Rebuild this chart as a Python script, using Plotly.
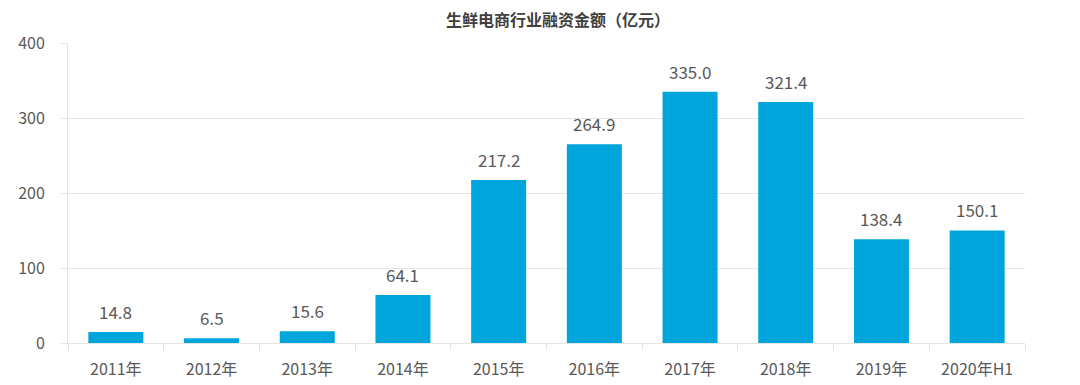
import plotly.graph_objects as go

categories = ["2011年", "2012年", "2013年", "2014年", "2015年", "2016年", "2017年", "2018年", "2019年", "2020年H1"]
values = [14.8, 6.5, 15.6, 64.1, 217.2, 264.9, 335.0, 321.4, 138.4, 150.1]
y_ticks = [0, 100, 200, 300, 400]

FONT = "Noto Sans CJK SC, Open Sans, sans-serif"
GRID = "#E4E4E4"
TXT = "#595959"

# page body has an 8px default margin; figure sized to end at window edge
W, H = 1072, 377

fig = go.Figure(go.Bar(
    x=categories, y=values,
    marker=dict(color="#00A5DB", line=dict(width=0)),
    width=0.575,
    hoverinfo="x+y",
))

for c, v in zip(categories, values):
    fig.add_annotation(x=c, y=v, text=f"{v:.1f}", showarrow=False,
                       yanchor="bottom", yshift=6,
                       font=dict(family=FONT, size=17, color=TXT))

fig.update_layout(
    width=W, height=H,
    margin=dict(l=60, r=55, t=35, b=42),
    paper_bgcolor="white", plot_bgcolor="white",
    showlegend=False,
    title=dict(text="<b>生鲜电商行业融资金额（亿元）</b>", x=550/W, xanchor="center",
               y=1 - 12.5/H, yanchor="middle", yref="container",
               font=dict(family=FONT, size=16, color="#404040")),
    xaxis=dict(showline=True, linecolor=GRID, linewidth=1,
               ticks="outside", tickson="boundaries", ticklen=6, tickcolor=GRID,
               tickfont=dict(family=FONT, size=16, color=TXT),
               ticklabelstandoff=12, showgrid=False, automargin=False),
    yaxis=dict(range=[0, 400], tickvals=y_ticks, showgrid=True, gridcolor=GRID, gridwidth=1,
               showline=True, linecolor=GRID, linewidth=1,
               ticks="outside", ticklen=6, tickcolor=GRID,
               tickfont=dict(family=FONT, size=16, color=TXT),
               ticklabelstandoff=13, zeroline=False, automargin=False),
    bargap=0.425,
)

fig.write_html("out.html")
